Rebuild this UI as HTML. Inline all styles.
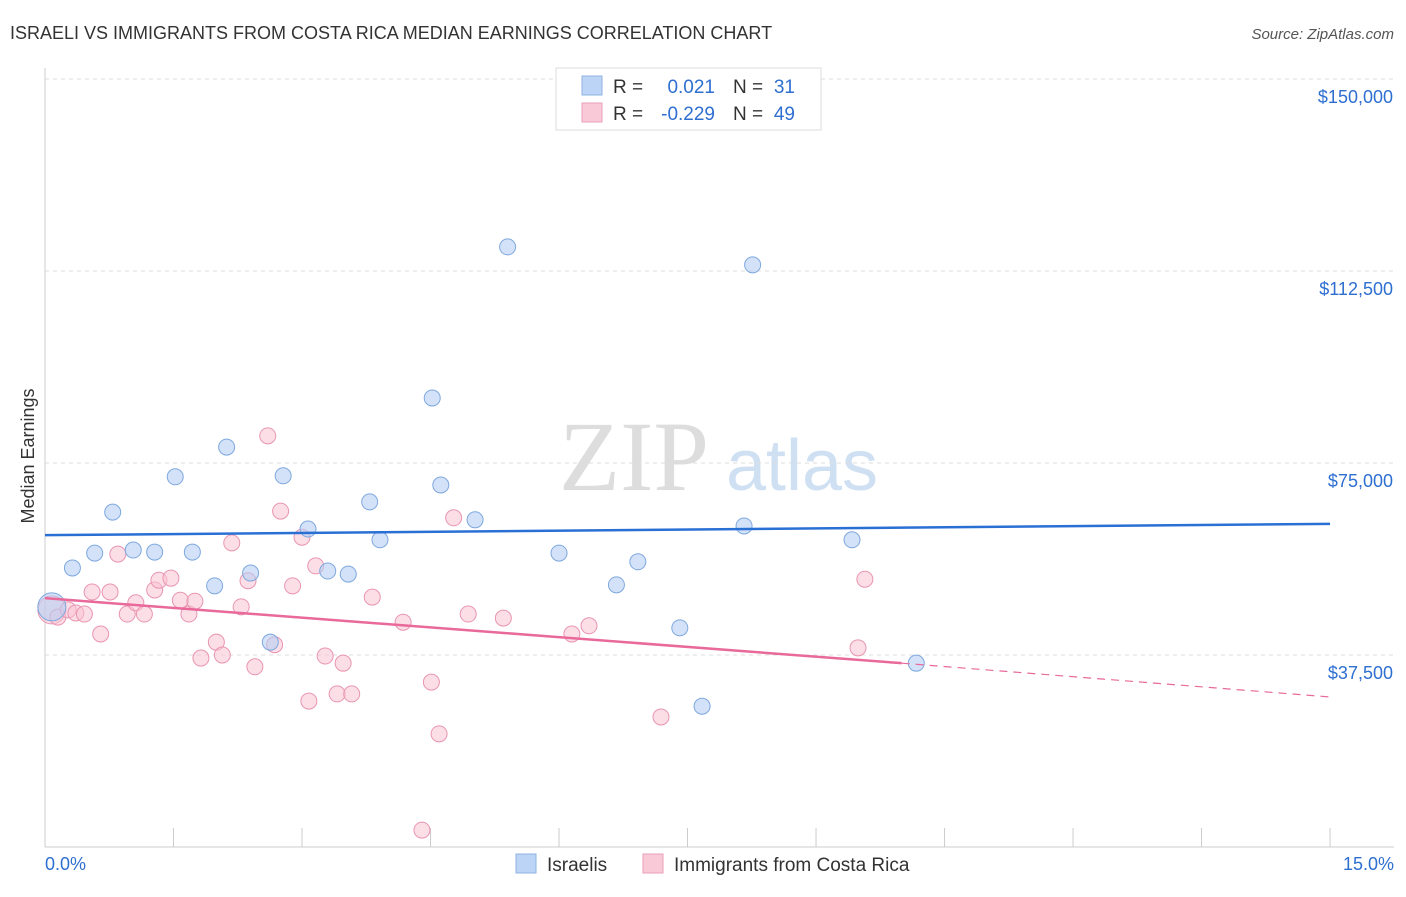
<!DOCTYPE html>
<html><head><meta charset="utf-8"><style>
body{margin:0;background:#fff;font-family:"Liberation Sans",sans-serif;}
svg text{font-family:"Liberation Sans",sans-serif;}
svg text.serif{font-family:"Liberation Serif",serif;}
</style></head><body>
<svg id="chart" width="1406" height="892">
<text x="10" y="39" font-size="18" fill="#333">ISRAELI VS IMMIGRANTS FROM COSTA RICA MEDIAN EARNINGS CORRELATION CHART</text>
<text x="1394" y="39" font-size="15" fill="#555" text-anchor="end" font-style="italic">Source: ZipAtlas.com</text>
<text transform="translate(34,456) rotate(-90)" font-size="18" fill="#333" text-anchor="middle">Median Earnings</text>
<g><text class="serif" x="634" y="490" font-size="100" fill="#ddd" text-anchor="middle">ZIP</text><text x="802" y="490" font-size="72" fill="#cfe0f3" text-anchor="middle">atlas</text></g>
<g id="grid"></g><g id="pts"></g><g id="trend"></g>
<g>
<rect x="556" y="68" width="265" height="62" fill="#fff" stroke="#ddd"/>
<rect x="582" y="76" width="20" height="19" fill="#bcd4f5" stroke="#8fb2e3"/>
<rect x="582" y="103" width="20" height="19" fill="#f9c9d8" stroke="#eba0b9"/>
<text x="613" y="93" font-size="19" fill="#333">R = </text><text x="715" y="93" font-size="19" fill="#2e6fd0" text-anchor="end">0.021</text>
<text x="733" y="93" font-size="19" fill="#333">N = </text><text x="795" y="93" font-size="19" fill="#2e6fd0" text-anchor="end">31</text>
<text x="613" y="120" font-size="19" fill="#333">R = </text><text x="715" y="120" font-size="19" fill="#2e6fd0" text-anchor="end">-0.229</text>
<text x="733" y="120" font-size="19" fill="#333">N = </text><text x="795" y="120" font-size="19" fill="#2e6fd0" text-anchor="end">49</text>
</g>
<g>
<rect x="516" y="854" width="20" height="19" fill="#bcd4f5" stroke="#8fb2e3"/>
<text x="547" y="871" font-size="19" fill="#333">Israelis</text>
<rect x="643" y="854" width="20" height="19" fill="#f9c9d8" stroke="#eba0b9"/>
<text x="674" y="871" font-size="19" fill="#333">Immigrants from Costa Rica</text>
</g>
<text x="45" y="870" font-size="18" fill="#2e6fd0">0.0%</text>
<text x="1394" y="870" font-size="18" fill="#2e6fd0" text-anchor="end">15.0%</text>
</svg>
<script>
const yTicks=[37500,75000,112500,150000];
const yTickLabels=["$37,500","$75,000","$112,500","$150,000"];
const israeliX=[0.08,0.32,0.58,0.79,1.03,1.28,1.52,1.72,1.98,2.12,2.40,2.63,2.78,3.07,3.30,3.54,3.79,3.91,4.52,4.62,5.02,5.40,6.00,6.67,6.92,7.41,7.67,8.16,8.26,9.42,10.17];
const israeliY=[46.9,54.5,57.4,65.4,58.0,57.6,72.3,57.6,51.0,78.1,53.5,40.0,72.5,62.1,53.9,53.3,67.4,60.0,87.7,70.7,63.9,117.2,57.4,51.2,55.7,42.8,27.5,62.7,113.7,60.0,35.9];
const costaX=[0.08,0.15,0.27,0.36,0.46,0.55,0.65,0.76,0.85,0.96,1.06,1.16,1.28,1.33,1.47,1.58,1.68,1.75,1.82,2.00,2.07,2.18,2.29,2.37,2.45,2.60,2.68,2.75,2.89,3.00,3.08,3.16,3.27,3.41,3.48,3.58,3.82,4.18,4.40,4.51,4.60,4.77,4.94,5.35,6.15,6.35,7.19,9.49,9.57];
const costaY=[46.3,44.9,46.3,45.7,45.5,49.8,41.6,49.8,57.2,45.5,47.7,45.5,50.2,52.1,52.5,48.2,45.5,48.0,36.9,40.0,37.5,59.4,46.9,52.0,35.2,80.3,39.5,65.6,51.0,60.5,28.5,54.9,37.3,29.9,35.9,29.9,48.8,43.9,3.3,32.2,22.1,64.3,45.5,44.7,41.6,43.2,25.4,38.9,52.3];
const israeliTrend=[60.9,63.1];
const costaTrend=[48.6,35.9,29.3];
const X=v=>45+v*85.67, Y=v=>847-v*1000/195.3;
const NS="http://www.w3.org/2000/svg";
function mk(p,t,a){const e=document.createElementNS(NS,t);for(const k in a)e.setAttribute(k,a[k]);p.appendChild(e);return e;}
const grid=document.getElementById('grid');
mk(grid,'line',{x1:45,y1:68,x2:45,y2:847,stroke:'#ccc'});
mk(grid,'line',{x1:45,y1:847,x2:1394,y2:847,stroke:'#ccc'});
for(let i=0;i<=10;i++){const l=mk(grid,'line',{x1:X(i*1.5),y1:828,x2:X(i*1.5),y2:847,stroke:'#ccc'});

}
yTicks.forEach((t,i)=>{const y=Y(t/1000);
const l=mk(grid,'line',{x1:45,y1:y,x2:1394,y2:y,stroke:'#ddd','stroke-dasharray':'4,4'});


const tx=mk(grid,'text',{x:1393,y:y+24,'font-size':18,fill:'#2e6fd0','text-anchor':'end'});tx.textContent=yTickLabels[i];

});
const pts=document.getElementById('pts');
costaX.forEach((x,i)=>{const c=mk(pts,'circle',{cx:X(x),cy:Y(costaY[i]),r:i==0?14:8,fill:'#f9c3d4','fill-opacity':0.55,stroke:'#e995b1','stroke-width':1});

});
israeliX.forEach((x,i)=>{const c=mk(pts,'circle',{cx:X(x),cy:Y(israeliY[i]),r:i==0?14:8,fill:'#b5cff3','fill-opacity':0.6,stroke:'#7ea8de','stroke-width':1});

});
const tr=document.getElementById('trend');
const b=mk(tr,'line',{x1:X(0),y1:Y(israeliTrend[0]),x2:X(15),y2:Y(israeliTrend[1]),stroke:'#2a6fd4','stroke-width':2.5});


const p=mk(tr,'line',{x1:X(0),y1:Y(costaTrend[0]),x2:X(10),y2:Y(costaTrend[1]),stroke:'#e8699a','stroke-width':2.5});


const d=mk(tr,'line',{x1:X(10),y1:Y(costaTrend[1]),x2:X(15),y2:Y(costaTrend[2]),stroke:'#e8699a','stroke-width':1.2,'stroke-dasharray':'8,6'});


</script>
</body></html>
